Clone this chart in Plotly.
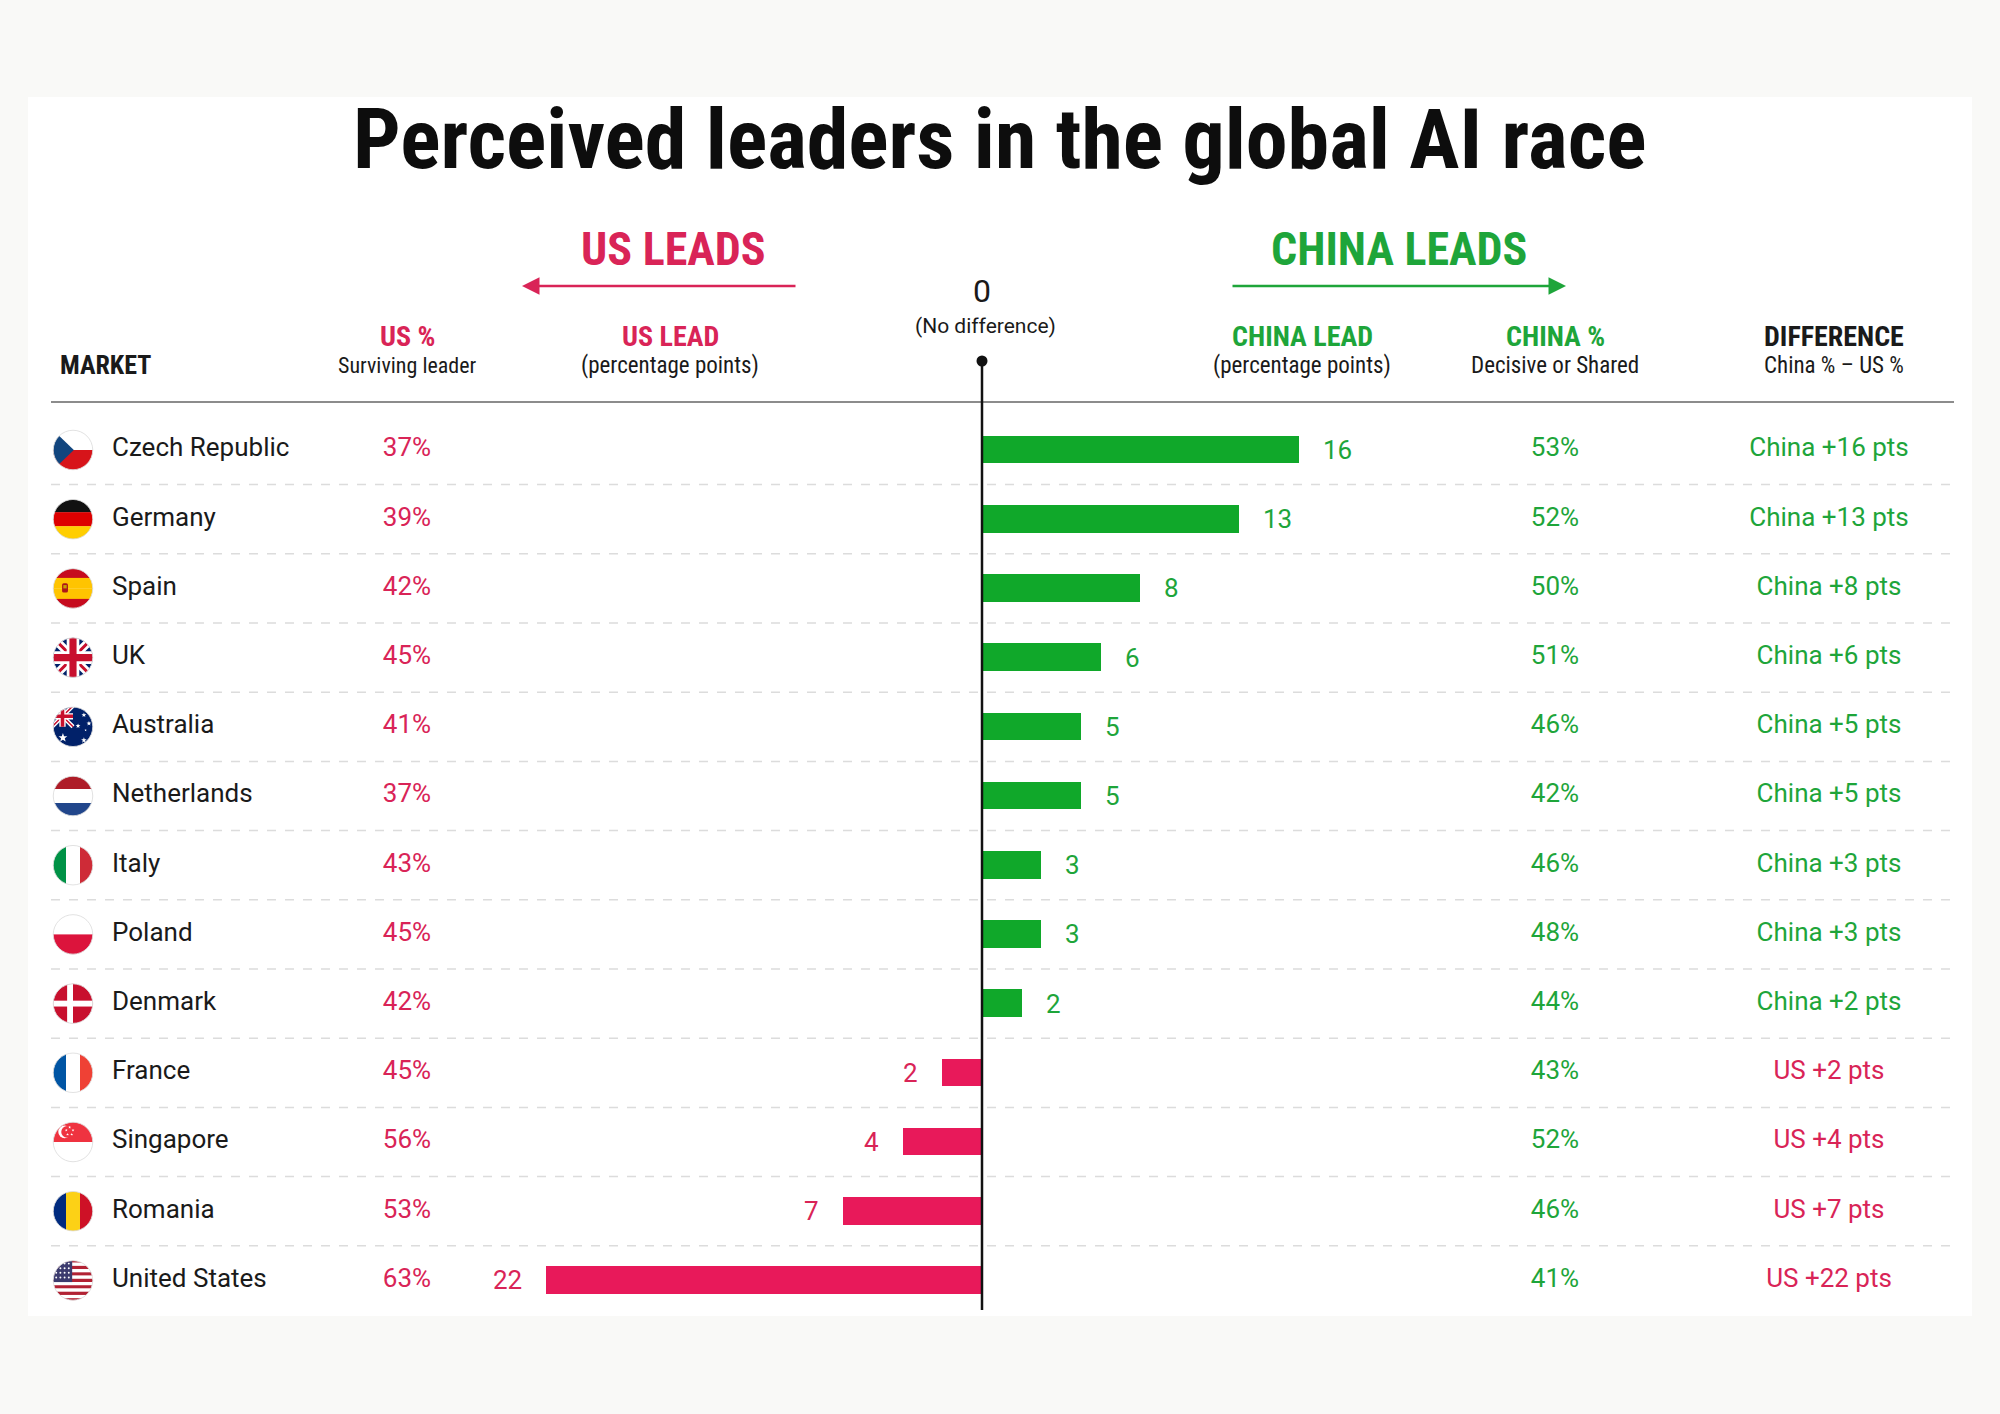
import base64
import math
import plotly.graph_objects as go

# data
countries = ["Czech Republic", "Germany", "Spain", "UK", "Australia", "Netherlands", "Italy",
             "Poland", "Denmark", "France", "Singapore", "Romania", "United States"]
flag_codes = ["cz", "de", "es", "gb", "au", "nl", "it", "pl", "dk", "fr", "sg", "ro", "us"]
us_pct = [37, 39, 42, 45, 41, 37, 43, 45, 42, 45, 56, 53, 63]
china_pct = [53, 52, 50, 51, 46, 42, 46, 48, 44, 43, 52, 46, 41]
lead_pts = [16, 13, 8, 6, 5, 5, 3, 3, 2, -2, -4, -7, -22]   # + china leads, - us leads

W, H = 2000, 1414
RED = "#d92457"
RED_BAR = "#e8195a"
GREEN = "#1ea53a"
GREEN_BAR = "#10a82a"
DARK = "#1a1a1a"
HEAD = "Liberation Sans Narrow, Roboto Condensed, Arial Narrow, sans-serif"
BODY = "Roboto, Lato, sans-serif"

ROW0, ROW_H = 450, 69.2
ZERO_PX, UNIT_PX = 982, 19.8
n = len(countries)


def px(x):
    return x / W


def py(y):
    return 1 - y / H


# ---- little round flags as svg images
def star(cx, cy, r, fill="#fff"):
    pts = []
    for k in range(10):
        rr = r if k % 2 == 0 else r * 0.42
        a = -math.pi / 2 + k * math.pi / 5
        pts.append("%.1f,%.1f" % (cx + rr * math.cos(a), cy + rr * math.sin(a)))
    return '<polygon points="%s" fill="%s"/>' % (" ".join(pts), fill)


def hbands(cols):
    h = 100 / len(cols)
    return "".join('<rect x="0" y="%.2f" width="100" height="%.2f" fill="%s"/>' % (i * h, h + 0.5, c)
                   for i, c in enumerate(cols))


def vbands(cols):
    w = 100 / len(cols)
    return "".join('<rect x="%.2f" y="0" width="%.2f" height="100" fill="%s"/>' % (i * w, w + 0.5, c)
                   for i, c in enumerate(cols))


def union_jack():
    return ('<rect width="100" height="100" fill="#012169"/>'
            '<path d="M0,0 L100,100 M100,0 L0,100" stroke="#fff" stroke-width="20"/>'
            '<path d="M0,0 L100,100 M100,0 L0,100" stroke="#c8102e" stroke-width="7"/>'
            '<path d="M50,0 V100 M0,50 H100" stroke="#fff" stroke-width="30"/>'
            '<path d="M50,0 V100 M0,50 H100" stroke="#c8102e" stroke-width="17"/>')


def flag_body(code):
    if code == "cz":
        return hbands(["#ffffff", "#d7141a"]) + '<polygon points="0,0 52,50 0,100" fill="#11457e"/>'
    if code == "de":
        return hbands(["#111111", "#dd0000", "#ffce00"])
    if code == "es":
        return (hbands(["#c60b1e", "#ffc400", "#ffc400", "#c60b1e"]) +
                '<rect x="24" y="38" width="14" height="22" rx="4" fill="#ad1519"/>'
                '<rect x="27" y="42" width="8" height="8" fill="#c8a000"/>')
    if code == "gb":
        return union_jack()
    if code == "au":
        return ('<rect width="100" height="100" fill="#012169"/>'
                '<g transform="scale(0.5)">' + union_jack() + '</g>' +
                star(26, 76, 11) + star(76, 22, 6) + star(62, 48, 6) + star(88, 42, 6) +
                star(76, 82, 7) + star(80, 58, 3))
    if code == "nl":
        return hbands(["#ae1c28", "#ffffff", "#21468b"])
    if code == "it":
        return vbands(["#009246", "#ffffff", "#ce2b37"])
    if code == "pl":
        return hbands(["#ffffff", "#dc143c"])
    if code == "dk":
        return ('<rect width="100" height="100" fill="#c8102e"/>'
                '<rect x="36" y="0" width="14" height="100" fill="#fff"/>'
                '<rect x="0" y="43" width="100" height="14" fill="#fff"/>')
    if code == "fr":
        return vbands(["#0055a4", "#ffffff", "#ef4135"])
    if code == "sg":
        return (hbands(["#ef3340", "#ffffff"]) +
                '<circle cx="30" cy="26" r="15" fill="#fff"/><circle cx="36" cy="26" r="14" fill="#ef3340"/>' +
                star(42, 15, 3.5) + star(50, 22, 3.5) + star(47, 32, 3.5) + star(37, 32, 3.5) + star(34, 22, 3.5))
    if code == "ro":
        return vbands(["#002b7f", "#fcd116", "#ce1126"])
    if code == "us":
        s = ""
        for k in range(13):
            s += '<rect x="0" y="%.2f" width="100" height="%.2f" fill="%s"/>' % (
                k * 100 / 13, 100 / 13 + 0.3, "#b22234" if k % 2 == 0 else "#ffffff")
        s += '<rect x="0" y="0" width="48" height="54" fill="#3c3b6e"/>'
        for r in range(4):
            for c in range(4):
                s += '<circle cx="%d" cy="%d" r="2.3" fill="#fff"/>' % (10 + c * 10, 10 + r * 11)
        return s
    return ""


def flag_uri(code):
    svg = ('<svg xmlns="http://www.w3.org/2000/svg" width="100" height="100" viewBox="0 0 100 100">'
           '<defs><clipPath id="c"><circle cx="50" cy="50" r="47"/></clipPath></defs>'
           '<g clip-path="url(#c)">' + flag_body(code) + '</g>'
           '<circle cx="50" cy="50" r="47" fill="none" stroke="#dcdcdc" stroke-width="2"/></svg>')
    return "data:image/svg+xml;base64," + base64.b64encode(svg.encode()).decode()


rows = list(range(n))
bar_colors = [GREEN_BAR if v > 0 else RED_BAR for v in lead_pts]
diff_text = [("China +%d pts" % v) if v > 0 else ("US +%d pts" % -v) for v in lead_pts]
diff_colors = [GREEN if v > 0 else RED for v in lead_pts]

fig = go.Figure()

fig.add_trace(go.Bar(
    x=lead_pts, y=rows, orientation="h",
    marker=dict(color=bar_colors, line=dict(width=0)),
    width=0.40, hoverinfo="skip", showlegend=False))

# text columns on a full-width pixel helper axis
fig.add_trace(go.Scatter(
    x=[112] * n, y=rows, xaxis="x2", mode="text", text=countries,
    textposition="middle right", textfont=dict(family=BODY, size=26, color=DARK),
    hoverinfo="skip", showlegend=False, cliponaxis=False))
fig.add_trace(go.Scatter(
    x=[407] * n, y=rows, xaxis="x2", mode="text", text=["%d%%" % v for v in us_pct],
    textposition="middle center", textfont=dict(family=BODY, size=26, color=RED),
    hoverinfo="skip", showlegend=False, cliponaxis=False))
fig.add_trace(go.Scatter(
    x=[1555] * n, y=rows, xaxis="x2", mode="text", text=["%d%%" % v for v in china_pct],
    textposition="middle center", textfont=dict(family=BODY, size=26, color=GREEN),
    hoverinfo="skip", showlegend=False, cliponaxis=False))
fig.add_trace(go.Scatter(
    x=[1829] * n, y=rows, xaxis="x2", mode="text", text=diff_text,
    textposition="middle center", textfont=dict(family=BODY, size=26, color=diff_colors),
    hoverinfo="skip", showlegend=False, cliponaxis=False))

ann = []
# bar value labels
for i, v in enumerate(lead_pts):
    ann.append(dict(x=v, y=i, xref="x", yref="y", text=str(abs(v)), showarrow=False,
                    xanchor="left" if v > 0 else "right", xshift=22 if v > 0 else -22,
                    font=dict(family=BODY, size=26, color=GREEN if v > 0 else RED)))


def label(x, y, text, size, color, family=HEAD, xanchor="center"):
    ann.append(dict(x=px(x), y=py(y), xref="paper", yref="paper", text=text, showarrow=False,
                    xanchor=xanchor, yanchor="middle", font=dict(family=family, size=size, color=color)))


label(1000, 140, "<b>Perceived leaders in the global AI race</b>", 84, "#0d0d0d")
label(673, 249, "<b>US LEADS</b>", 46, RED)
label(1399, 249, "<b>CHINA LEADS</b>", 46, GREEN)
label(982, 291, "0", 32, DARK, BODY)
label(985, 326, "(No difference)", 21, DARK, BODY)
label(58, 365, "<b>MARKET</b>", 26, DARK, xanchor="left")
label(407, 336, "<b>US %</b>", 28, RED)
label(407, 366, "Surviving leader", 22, DARK)
label(670, 336, "<b>US LEAD</b>", 28, RED)
label(670, 366, "(percentage points)", 23, DARK)
label(1302, 336, "<b>CHINA LEAD</b>", 28, GREEN)
label(1302, 366, "(percentage points)", 23, DARK)
label(1555, 336, "<b>CHINA %</b>", 28, GREEN)
label(1555, 366, "Decisive or Shared", 23, DARK)
label(1834, 336, "<b>DIFFERENCE</b>", 28, DARK)
label(1834, 366, "China % \u2013 US %", 23, DARK)

# direction arrows
ann.append(dict(x=px(522), y=py(286), xref="paper", yref="paper", ax=275, ay=0, text="",
                showarrow=True, arrowhead=2, arrowsize=1.4, arrowwidth=2.5, arrowcolor=RED))
ann.append(dict(x=px(1566), y=py(286), xref="paper", yref="paper", ax=-335, ay=0, text="",
                showarrow=True, arrowhead=2, arrowsize=1.4, arrowwidth=2.5, arrowcolor=GREEN))

shapes = [
    # white card
    dict(type="rect", xref="paper", yref="paper", x0=px(28), x1=px(1972), y0=py(1316), y1=py(97),
         fillcolor="#ffffff", line=dict(width=0), layer="below"),
    # header rule
    dict(type="line", xref="paper", yref="paper", x0=px(51), x1=px(1954), y0=py(402), y1=py(402),
         line=dict(color="#8c8c8c", width=2)),
]
for i in range(n - 1):
    shapes.append(dict(type="line", xref="paper", yref="y", x0=px(51), x1=px(1952), y0=i + 0.5, y1=i + 0.5,
                       line=dict(color="#dcdcdc", width=1.5, dash="dash"), layer="below"))
# zero line and its dot
shapes.append(dict(type="line", xref="x", yref="paper", x0=0, x1=0, y0=py(1310), y1=py(361),
                   line=dict(color="#111111", width=2.5)))
shapes.append(dict(type="circle", xref="paper", yref="paper", x0=px(ZERO_PX - 5.5), x1=px(ZERO_PX + 5.5),
                   y0=py(361 + 5.5), y1=py(361 - 5.5), fillcolor="#111111", line=dict(width=0)))

images = [dict(source=flag_uri(c), xref="x2", yref="y", x=73, y=i, sizex=42, sizey=42 / ROW_H,
               xanchor="center", yanchor="middle", sizing="contain", layer="above")
          for i, c in enumerate(flag_codes)]

x0_px, x1_px = 400, 1600
fig.update_layout(
    width=W, height=H,
    margin=dict(l=0, r=0, t=0, b=0),
    paper_bgcolor="#f9f9f7", plot_bgcolor="rgba(0,0,0,0)",
    xaxis=dict(domain=[px(x0_px), px(x1_px)],
               range=[-(ZERO_PX - x0_px) / UNIT_PX, (x1_px - ZERO_PX) / UNIT_PX],
               visible=False, fixedrange=True),
    xaxis2=dict(domain=[0, 1], range=[0, W], anchor="y", visible=False),
    yaxis=dict(domain=[py(ROW0 + (n - 0.5) * ROW_H), py(ROW0 - 0.5 * ROW_H)],
               range=[n - 0.5, -0.5], visible=False),
    annotations=ann, shapes=shapes, images=images,
    bargap=0,
)

fig.write_html("out.html", config={"displayModeBar": False},
               post_script="document.body.style.margin='0px';")
